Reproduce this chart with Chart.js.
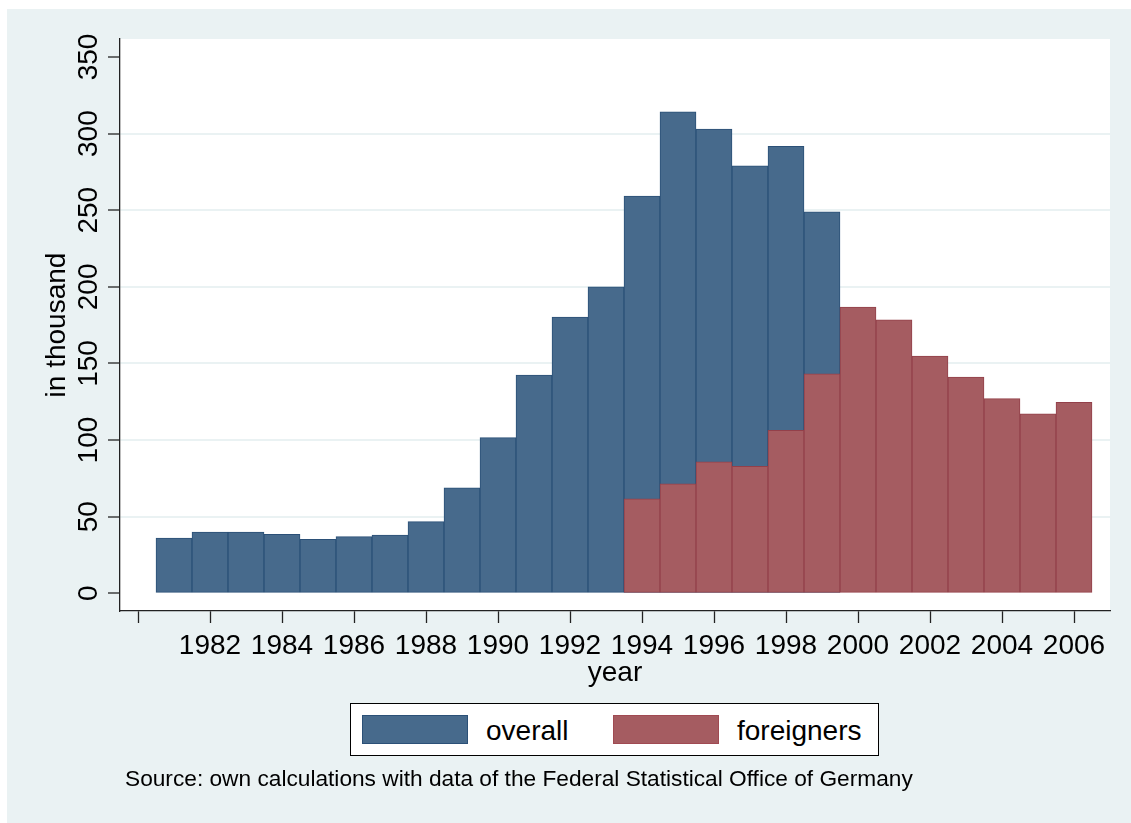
<!DOCTYPE html>
<html>
<head>
<meta charset="utf-8">
<script src="https://cdn.jsdelivr.net/npm/chart.js@4.4.1/dist/chart.umd.min.js"></script>
<style>
  html, body { margin: 0; padding: 0; background: #fff; }
  body { width: 1131px; height: 823px; position: relative; overflow: hidden;
         font-family: "Liberation Sans", Arial, sans-serif; }
  #panel { position: absolute; left: 7px; top: 9px; right: 0; bottom: 0; background: #eaf2f3; }
  #wrap { position: absolute; left: 0; top: 0; width: 1131px; height: 823px; }
  #chart { display: block; width: 1131px; height: 823px; }
  #legend { position: absolute; left: 350px; top: 703px; width: 527px; height: 51px;
            border: 1px solid #000; background: #fff; }
  .sw { position: absolute; top: 11px; width: 104px; height: 27px; }
  .lt { position: absolute; top: 11px; font-size: 28px; line-height: 32px; color: #000; }
  #source { position: absolute; left: 125px; top: 765px; font-size: 22.7px; color: #000; white-space: nowrap; }
</style>
</head>
<body>
<div id="panel"></div>
<div id="wrap"><canvas id="chart" width="1131" height="823"></canvas></div>
<div id="legend">
  <div class="sw" style="left:11px;background:#476a8c;border:1px solid #2b5077"></div>
  <div class="lt" style="left:135px">overall</div>
  <div class="sw" style="left:262px;background:#a55c61;border:1px solid #a04a52"></div>
  <div class="lt" style="left:386px">foreigners</div>
</div>
<div id="source">Source: own calculations with data of the Federal Statistical Office of Germany</div>
<script>
// data (in thousand)
const overallYears = [1981, 1982, 1983, 1984, 1985, 1986, 1987, 1988, 1989, 1990,
                      1991, 1992, 1993, 1994, 1995, 1996, 1997, 1998, 1999];
const overallValues = [36, 40, 40, 38.5, 35.3, 37, 38, 46.8, 68.9, 101.6,
                       142.4, 180.3, 200, 259.3, 314.2, 303, 278.9, 291.7, 248.9];
const foreignYears = [1994, 1995, 1996, 1997, 1998, 1999, 2000, 2001, 2002, 2003, 2004, 2005, 2006];
const foreignValues = [61.7, 71.4, 85.8, 82.8, 106.3, 143.2, 186.8, 178.5, 154.8, 141.1, 127, 117.2, 124.6];
const xTicks = [1980, 1982, 1984, 1986, 1988, 1990, 1992, 1994, 1996, 1998, 2000, 2002, 2004, 2006];
const yTicks = [0, 50, 100, 150, 200, 250, 300, 350];

const FONT = '"Liberation Sans", Arial, sans-serif';

const toPoints = (xs, ys) => xs.map((x, i) => ({ x, y: ys[i] }));

// white plot region + hand drawn tick labels (Stata style, rotated y labels)
const stataLook = {
    id: 'stataLook',
    beforeDraw(chart) {
        const { ctx, chartArea: a } = chart;
        ctx.save();
        ctx.fillStyle = '#fff';
        ctx.fillRect(a.left, a.top, a.right - a.left, a.bottom - a.top);
        ctx.restore();
    },
    afterDraw(chart) {
        const { ctx, chartArea: a } = chart;
        const xs = chart.scales.x, ys = chart.scales.y;
        ctx.save();
        ctx.fillStyle = '#000';
        ctx.font = '28px ' + FONT;
        ctx.textAlign = 'center';
        ctx.textBaseline = 'alphabetic';
        // x labels (first tick has no label)
        xTicks.forEach(v => {
            if (v === 1980) return;
            ctx.fillText(String(v), xs.getPixelForValue(v), a.bottom + 43);
        });
        ctx.fillText('year', (a.left + a.right) / 2, a.bottom + 70);
        // y labels rotated
        yTicks.forEach(v => {
            ctx.save();
            ctx.translate(a.left - 23, ys.getPixelForValue(v));
            ctx.rotate(-Math.PI / 2);
            ctx.fillText(String(v), 0, 0);
            ctx.restore();
        });
        ctx.save();
        ctx.translate(a.left - 55, (a.top + a.bottom) / 2);
        ctx.rotate(-Math.PI / 2);
        ctx.fillText('in thousand', 0, 0);
        ctx.restore();
        ctx.restore();
    }
};

new Chart(document.getElementById('chart'), {
    type: 'bar',
    data: {
        datasets: [{
            label: 'overall',
            data: toPoints(overallYears, overallValues),
            backgroundColor: '#476a8c',
            borderColor: '#2b5077',
            borderWidth: 1,
            borderSkipped: false,
            order: 2
        }, {
            label: 'foreigners',
            data: toPoints(foreignYears, foreignValues),
            backgroundColor: '#a55c61',
            borderColor: '#93404a',
            borderWidth: 1,
            borderSkipped: false,
            order: 1
        }]
    },
    options: {
        responsive: false,
        animation: false,
        devicePixelRatio: 1,
        grouped: false,
        categoryPercentage: 1,
        barPercentage: 1,
        layout: { padding: { left: 108, right: 21, top: 39, bottom: 200 } },
        scales: {
            x: {
                type: 'linear',
                offset: false,
                min: 1979.5,
                max: 2007,
                afterBuildTicks: s => { s.ticks = xTicks.map(v => ({ value: v })); },
                ticks: { display: false },
                grid: { offset: false, color: 'rgba(0,0,0,0)', tickColor: '#222', tickLength: 12, tickWidth: 1.3 },
                border: { color: '#222', width: 1.3 }
            },
            y: {
                min: -11.55,
                max: 361.75,
                afterBuildTicks: s => { s.ticks = yTicks.map(v => ({ value: v })); },
                ticks: { display: false },
                grid: {
                    color: c => (c.tick && c.tick.value > 0 && c.tick.value < 350) ? '#eaf2f3' : 'rgba(0,0,0,0)',
                    lineWidth: 2,
                    tickColor: '#222',
                    tickLength: 12,
                    tickWidth: 1.3
                },
                border: { color: '#222', width: 1.3 }
            }
        },
        plugins: {
            legend: { display: false },
            tooltip: { enabled: false }
        }
    },
    plugins: [stataLook]
});
</script>
</body>
</html>
